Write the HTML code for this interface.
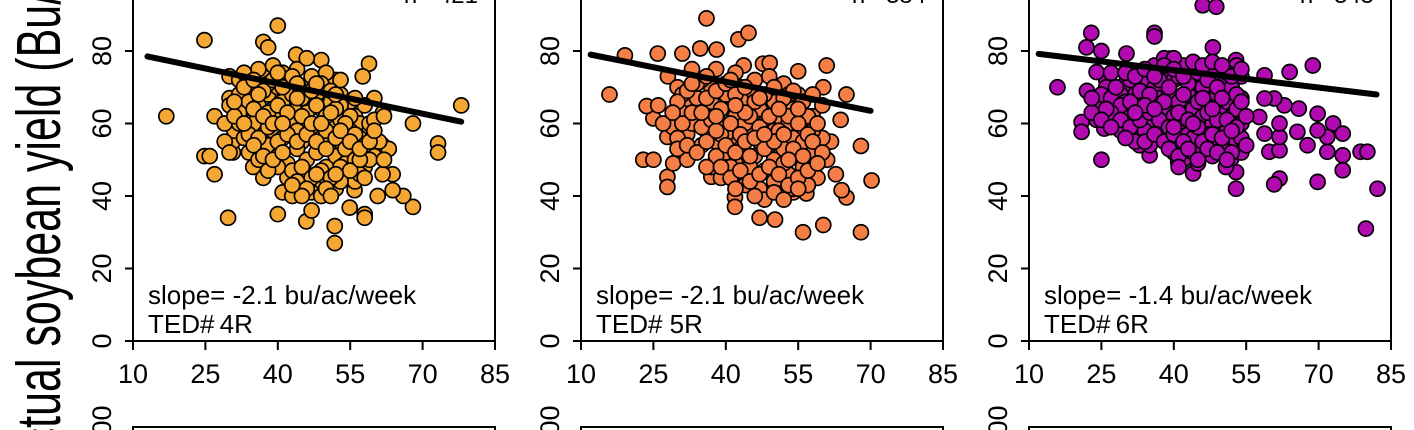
<!DOCTYPE html>
<html><head><meta charset="utf-8"><style>
html,body{margin:0;padding:0;background:#fff;width:1414px;height:430px;overflow:hidden}
svg{display:block}
text{font-family:"Liberation Sans",Arial,sans-serif;fill:#000}
</style></head><body>
<svg id="chart" width="1414" height="430" viewBox="0 0 1414 430">
<text transform="translate(60,478) rotate(-90) scale(1,1.45)" font-size="43">Actual soybean yield (Bu/ac)</text>
</svg>
<script>
const xTicks=[10,25,40,55,70,85];
const yTicks=[0,20,40,60,80];
const panelNames=["ted-4r","ted-5r","ted-6r"];
const slopeLabels=["slope= -2.1 bu/ac/week","slope= -2.1 bu/ac/week","slope= -1.4 bu/ac/week"];
const tedLabels=["TED#\u20094R","TED# 5R","TED#\u20096R"];
const nLabels=["n= 421","n= 384","n= 345"];
const colors=["#F5A733","#F47E45","#B00AB0"];
const fitStart=[[13,78.5],[12,79],[12,79.2]];
const fitEnd=[[78,60.5],[70,63.5],[82,68]];
const pts1=[[16.9,62],[24.8,83],[24.8,51],[25.9,51],[26.9,46],[26.9,62],[29.7,34],[40,87],[37,82.5],[38,81],[43.8,79],[49,77.5],[58.9,76.5],[57.6,73],[78,65],[68,60],[73.2,54.5],[73.2,52],[68,37],[66,40],[40,35],[45.9,33],[47,36],[51.8,31.7],[51.8,27],[54.9,36.8],[58,35],[58,34],[55.9,41.6],[60.7,40],[63.8,41.6],[63.8,46],[61.7,46],[61.7,54],[63,53],[60,67],[61.8,63],[34.9,48],[37,45],[30,67],[30,73],[32,72],[30.7,52],[30.7,55],[34.5,59],[35.5,69],
[32,68],[33,64],[34,70],[35,66],[36,62],[37,73],[38,68],[39,64],[40,70],[41,66],[42,72],[43,68],[44,64],[45,70],[46,66],[47,72],[48,68],[49,64],[50,70],[51,66],[52,72],[53,68],[54,64],[55,66],[56,62],[57,60],[58,65],[59,58],
[31,58],[33,56],[35,60],[37,55],[39,58],[41,56],[43,60],[45,55],[47,58],[49,56],[51,60],[53,55],[55,58],[57,56],[59,60],[61,55],
[34,52],[36,50],[38,54],[40,51],[42,49],[44,53],[46,50],[48,52],[50,48],[52,51],[54,49],[56,52],[58,48],[60,51],[42,45],[44,42],[46,46],[48,43],[50,45],[52,42],[54,46],[56,44],[41,41],[43,40],[47,41],[49,40],[53,44],[57,46],[59,50],[62,50],
[36,75],[39,76],[41,74],[44,75],[47,73],[50,74],[53,72],[46,78],[33,74],[38,71],[30,65],[29,60],[29,55],[30,52],[32,60],[40,61],[44,58],[50,58],[53,61],[56,67],[60,61],[62,62],[40,48],[38,47],
[33,70],[35,72],[37,69],[39,72],[41,70],[43,73],[45,67],[47,69],[49,71],[51,69],[53,65],[55,62],[34,66],[36,65],[38,63],[40,65],[42,63],[44,67],[46,63],[48,65],[50,62],[52,64],[54,60],[56,57],[58,54],[32,63],[34,57],[36,56],[38,59],[40,55],[42,57],[44,55],[46,57],[48,55],[50,53],[52,56],[54,53],[56,50],[58,45],[35,54],[37,51],[39,50],[41,52],[43,47],[45,48],[47,45],[49,47],[51,45],[53,48],[55,47],[57,50],[44,44],[46,42],[48,46],[50,42],[52,46],[45,40],[51,40],[43,43],[31,62],[31,66],[33,60],[35,64],[37,62],[39,60],[41,60],[45,62],[47,60],[49,60],[51,63],[53,58],[55,55],[57,53],[59,55],[60,58],[36,68],[40,74],[44,71],[48,71],[52,68]];
const pts2=[[15.9,68],[19.1,78.8],[25.9,79.3],[22.9,50],[25,50],[25,61.4],[23.6,64.8],[27.9,56.3],[27.9,45.3],[27.9,42.5],[29.1,49],[31,79.3],[36,89],[34.7,80.7],[38.1,80.4],[42.6,83.2],[44.7,85],[43.7,76],[47.7,76.5],[49.1,76.7],[55,74.4],[60.9,76],[65,68],[60.2,70],[68,53.8],[70.2,44.3],[68,30],[56,30],[60.2,32],[47,34],[50.2,33.5],[41.9,39.7],[41.9,37],[65,39.6],[64,41.6],[62.8,46],[61.8,55],[63.8,61],[56.7,40.7],[54,41],[51.9,39.7],[37,45.3],[37,48],
[28,73],[30,70],[32,66],[34,62],[36,58],[38,55],[40,52],[42,49],[44,46],[46,44],[48,47],[50,50],[52,53],[54,56],[56,59],[58,62],[60,65],[55,68],[52,71],[49,73],[46,72],[43,70],[40,68],[37,66],[34,67],[31,63],[29,59],[32,57],[35,54],[38,51],[41,48],[44,43],[47,42],[50,44],[53,46],[56,48],[58,52],[60,56],[57,62],[54,64],[51,62],[48,60],[45,58],[42,56],[39,60],[36,62],[33,60],[30,56],[41,64],[44,66],[47,64],[50,66],[53,60],[55,52],[52,49],[49,54],[46,51],[43,53],[40,57],[37,70],[35,72],[38,75],[33,75],[42,74],[46,68],[50,58],[56,55],[59,45],[57,43],[54,42],[48,39],[45,48],[39,45],[36,48],[32,50],[42,62],[39,64],[47,55],[53,68],[58,58],[61,50],[44,60],[31,68],[26,65],[27,60],
[30,66],[32,69],[34,71],[36,67],[38,69],[40,71],[42,68],[44,70],[46,66],[48,68],[50,70],[52,67],[54,69],[56,66],[58,68],[31,60],[33,63],[35,59],[37,61],[39,57],[41,60],[43,57],[45,62],[47,59],[49,62],[51,58],[53,62],[55,60],[57,57],[59,60],[30,53],[32,54],[34,52],[36,55],[38,58],[40,54],[42,52],[44,55],[46,56],[48,53],[50,55],[52,57],[54,53],[56,51],[58,55],[60,52],[39,48],[41,45],[43,47],[45,44],[47,46],[49,48],[51,46],[53,43],[55,45],[57,47],[59,49],[42,42],[46,40],[50,41],[52,39],[55,42],[29,63],[33,71],[36,73],[41,72],[44,63],[47,67],[51,64],[55,64],[45,51],[48,57],[42,65],[38,62],[35,63],[53,50]];
const pts3=[[15.9,70],[21.9,81],[22.9,85],[25,80],[20.9,60.4],[20.9,57.7],[25,50],[24,61],[25.6,58.6],[30.2,79.3],[36,85],[36,84],[46,92.6],[48.8,92.2],[68.8,76],[64,74.2],[58.8,73.3],[69.8,62.7],[73,60],[75,57.2],[75,51.2],[75,47.1],[71.8,52.2],[71.8,56.3],[69.8,58.1],[67.7,54],[69.8,43.9],[78.7,52.2],[80.1,52.2],[82.2,42],[79.8,31],[61.9,44.8],[60.8,43.2],[59.8,52.2],[61.9,52.6],[61.9,56.3],[61.9,60],[65.6,57.7],[65.9,64.1],[62.9,65],[60.8,66.9],[58.8,66.9],[57.7,61.8],[58.8,57.2],[52.9,42],[52.9,46.6],[51.9,50.3],[50.8,48],[44,46.2],[45,49],[40.9,49.4],[35,51.2],[32.9,54],[54,67],[52.9,77.5],[48.1,81],[39.1,77.9],[34,69],[30,71],[26,72],[24,74.2],
[26,70],[28,66],[30,64],[32,68],[34,72],[36,70],[38,74],[40,72],[42,76],[44,72],[46,70],[48,74],[50,72],[52,70],[54,73],[53,76],[28,62],[30,60],[32,58],[34,62],[36,60],[38,64],[40,62],[42,60],[44,64],[46,62],[48,60],[50,64],[52,62],[54,60],[33,56],[35,54],[37,58],[39,56],[41,54],[43,57],[45,55],[47,57],[49,55],[51,58],[53,55],[54,52],[40,52],[42,50],[46,52],[48,51],[29,68],[31,72],[27,74],[35,66],[37,67],[39,68],[41,66],[43,68],[45,66],[47,66],[49,68],[51,66],[53,64],[33,65],[29,58],[31,62],[36,76],[38,78],[40,78],[24,66],[23,63],[22,69],[44,56],[50,53],[54,56],[34,58],[30,66],
[25,68],[27,67],[29,65],[31,66],[33,69],[35,68],[37,72],[39,70],[41,73],[43,71],[45,74],[47,72],[49,70],[51,74],[53,68],[27,63],[29,61],[31,59],[33,61],[35,63],[37,61],[39,59],[41,63],[43,61],[45,59],[47,63],[49,61],[51,61],[53,59],[55,62],[32,55],[34,55],[36,57],[38,55],[40,57],[42,55],[44,52],[46,55],[48,57],[50,56],[52,52],[55,54],[39,53],[41,51],[43,53],[47,53],[49,52],[51,50],[28,70],[30,74],[32,73],[34,75],[36,73],[38,76],[40,75],[42,73],[44,77],[46,76],[48,77],[50,76],[52,73],[54,75],[26,64],[23,67],[25,61],[27,59],[30,56],[34,65],[38,66],[42,68],[46,67],[50,67],[54,66],[44,60],[40,59],[36,64],[32,63],[48,64],[52,58],[45,50],[41,48]];
const allPts=[pts1,pts2,pts3];

const NS="http://www.w3.org/2000/svg";
const svg=document.getElementById('chart');
const panelLeft=[133,581,1029];
const plotW=362, y0px=341, yScale=362.5/100;
function mk(tag,attrs,parent){const e=document.createElementNS(NS,tag);for(const k in attrs)e.setAttribute(k,attrs[k]);(parent||svg).appendChild(e);return e;}

panelLeft.forEach((L,p)=>{
  const sx=v=>L+(v-10)*plotW/75;
  const sy=v=>y0px-v*yScale;
  const g=mk('g',{});
  
  
  const pg=mk('g',{},g);
  
  
  allPts[p].forEach(d=>{
    const c=mk('circle',{cx:sx(d[0]),cy:sy(d[1]),r:7.5,fill:colors[p],stroke:'#000','stroke-width':1.7},pg);
    
    
  });
  const fl=mk('line',{x1:sx(fitStart[p][0]),y1:sy(fitStart[p][1]),x2:sx(fitEnd[p][0]),y2:sy(fitEnd[p][1]),stroke:'#000','stroke-width':6,'stroke-linecap':'round'},g);
  
  
  const fr=mk('path',{d:`M${L},-5 V${y0px} H${L+plotW} V-5`,fill:'none',stroke:'#000','stroke-width':2},g);
  
  
  xTicks.forEach(t=>{
    mk('line',{x1:sx(t),y1:y0px,x2:sx(t),y2:y0px+9,stroke:'#000','stroke-width':2},g);
    const tx=mk('text',{x:sx(t),y:383,'font-size':27,'text-anchor':'middle'},g);
    tx.textContent=t;
    
    
  });
  yTicks.forEach(t=>{
    mk('line',{x1:L,y1:sy(t),x2:L-8,y2:sy(t),stroke:'#000','stroke-width':2},g);
    const ty=mk('text',{transform:`translate(${L-22},${sy(t)}) rotate(-90)`,'font-size':27,'text-anchor':'middle'},g);
    ty.textContent=t;
    
    
  });
  const s=mk('text',{x:L+15,y:304,'font-size':26},g);
  s.textContent=slopeLabels[p];
  
  
  const t=mk('text',{x:L+15,y:333,'font-size':26},g);
  t.textContent=tedLabels[p];
  
  
  const n=mk('text',{x:L+345,y:3,'font-size':24,'text-anchor':'end'},g);
  n.textContent=nLabels[p];
  
  
  const b=mk('path',{d:`M${L},430 V427 H${L+plotW} V430`,fill:'none',stroke:'#000','stroke-width':2});
  
  
  const bl=mk('text',{transform:`translate(${L-22},428) rotate(-90)`,'font-size':27,'text-anchor':'middle'});
  bl.textContent='100';
  
  
});
</script>
</body></html>
